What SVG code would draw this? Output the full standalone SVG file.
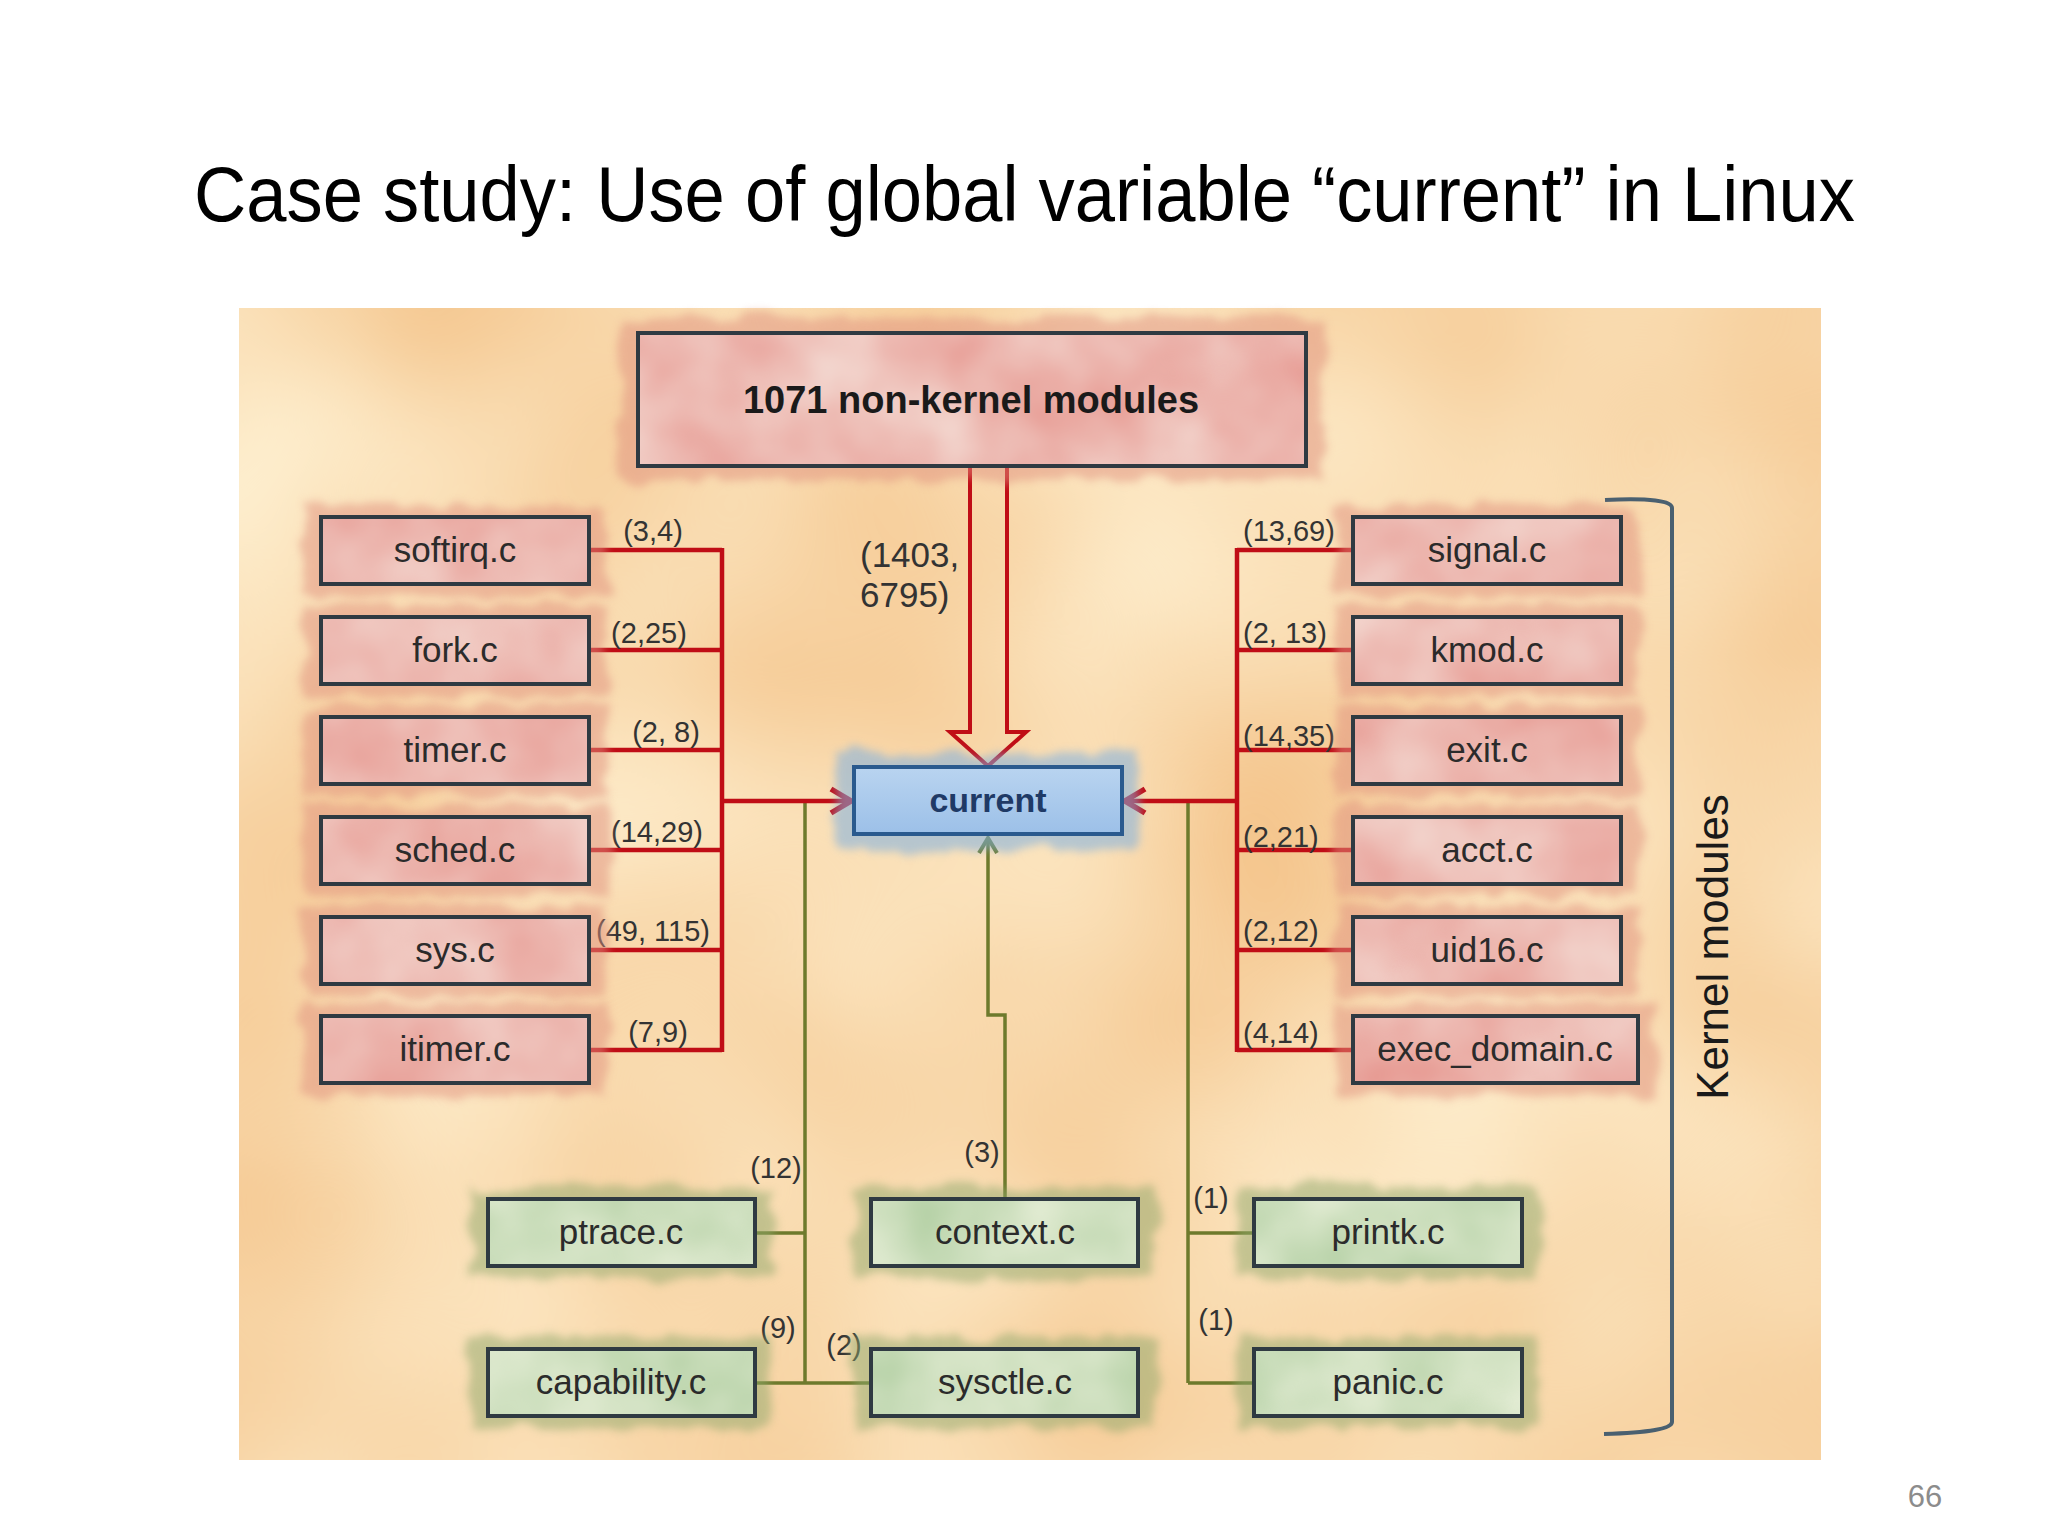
<svg xmlns="http://www.w3.org/2000/svg" width="2048" height="1536" viewBox="0 0 2048 1536">
<style>
  text{font-family:"Liberation Sans",Arial,sans-serif}
  .title{font-size:78px;fill:#000}
  .lbl{font-size:35px;fill:#2b2b2b;text-anchor:middle}
  .big{font-size:38px;font-weight:bold;fill:#1a1a1a;text-anchor:middle}
  .cur{font-size:34px;font-weight:bold;fill:#1f3a66;text-anchor:middle}
  .el{font-size:29px;fill:#333}
  .elm{font-size:29px;fill:#333;text-anchor:middle}
  .num{font-size:35px;fill:#333}
  .outline{fill:none;stroke:#2f3a42;stroke-width:4}
  .outline-b{fill:none;stroke:#2a5a8e;stroke-width:4}
  .fr{filter:url(#texR)}
  .fg{filter:url(#texG)}
  .sr{fill:#e0907e;opacity:0.5;filter:url(#splash)}
  .sg{fill:#8fa86c;opacity:0.5;filter:url(#splash)}
  .sb{fill:#7fb0e0;opacity:0.55;filter:url(#splash)}
  .red{fill:none;stroke:#c00d16;stroke-width:4.5}
  .green{fill:none;stroke:#6e7a2c;stroke-width:3.5}
</style>
<defs>
  <filter id="paper" x="0" y="0" width="100%" height="100%" color-interpolation-filters="sRGB">
    <feTurbulence type="fractalNoise" baseFrequency="0.003" numOctaves="2" seed="3" result="n"/>
    <feColorMatrix in="n" type="matrix" values="0.05 0 0 0 0.95  0.22 0 0 0 0.74  0.35 0 0 0 0.5  0 0 0 0 1" result="c"/>
    <feComposite in="c" in2="SourceGraphic" operator="in"/>
  </filter>
  <filter id="texR" x="0" y="0" width="100%" height="100%" color-interpolation-filters="sRGB">
    <feTurbulence type="fractalNoise" baseFrequency="0.009" numOctaves="3" seed="7" result="n"/>
    <feColorMatrix in="n" type="matrix" values="0.06 0 0 0 0.9  0.3 0 0 0 0.58  0.3 0 0 0 0.55  0 0 0 0 1" result="c"/>
    <feComposite in="c" in2="SourceGraphic" operator="in"/>
  </filter>
  <filter id="texG" x="0" y="0" width="100%" height="100%" color-interpolation-filters="sRGB">
    <feTurbulence type="fractalNoise" baseFrequency="0.009" numOctaves="3" seed="11" result="n"/>
    <feColorMatrix in="n" type="matrix" values="0.25 0 0 0 0.68  0.15 0 0 0 0.8  0.25 0 0 0 0.62  0 0 0 0 1" result="c"/>
    <feComposite in="c" in2="SourceGraphic" operator="in"/>
  </filter>
  <filter id="splash" x="-20%" y="-50%" width="140%" height="200%" color-interpolation-filters="sRGB">
    <feTurbulence type="fractalNoise" baseFrequency="0.03" numOctaves="3" seed="5" result="t"/>
    <feDisplacementMap in="SourceGraphic" in2="t" scale="22" xChannelSelector="R" yChannelSelector="G" result="d"/>
    <feGaussianBlur in="d" stdDeviation="4"/>
  </filter>
  <linearGradient id="gBlue" x1="0" y1="0" x2="0" y2="1">
    <stop offset="0" stop-color="#b9d4f0"/>
    <stop offset="1" stop-color="#9cc0e8"/>
  </linearGradient>
  <marker id="arrR" viewBox="0 0 26 30" refX="23" refY="15" markerWidth="26" markerHeight="30" markerUnits="userSpaceOnUse" orient="auto">
    <path d="M3,3 L23,15 L3,27" fill="none" stroke="#c00d16" stroke-width="5.5"/>
  </marker>
  <marker id="arrG" viewBox="0 0 20 24" refX="18" refY="12" markerWidth="20" markerHeight="24" markerUnits="userSpaceOnUse" orient="auto">
    <path d="M3,3 L18,12 L3,21" fill="none" stroke="#6e7a2c" stroke-width="4"/>
  </marker>
</defs>

<rect width="2048" height="1536" fill="#ffffff"/>

<text class="title" x="194" y="221" textLength="1661" lengthAdjust="spacingAndGlyphs">Case study: Use of global variable “current” in Linux</text>

<g id="background">
  <rect x="239" y="308" width="1582" height="1152" fill="#f9d6a4"/>
  <rect x="239" y="308" width="1582" height="1152" fill="#f9d6a4" filter="url(#paper)"/>
</g>

<g id="bracket">
  <path d="M1605,500 Q1672,497 1672,508 L1672,1422 Q1672,1432 1604,1434" fill="none" stroke="#4a6070" stroke-width="4"/>
  <text transform="translate(1728,947) rotate(-90)" text-anchor="middle" style="font-size:44px;fill:#1a1a1a">Kernel modules</text>
</g>

<g id="connectors">
  <g class="green">
    <path d="M805,801V1383M755,1233H805M755,1383H871"/>
    <path d="M1188,801V1383M1188,1233H1254M1188,1383H1254"/>
    <path d="M1005,1199V1015H988V838" marker-end="url(#arrG)"/>
  </g>
  <g class="red">
    <path d="M589,550H722M589,650H722M589,750H722M589,850H722M589,950H722M589,1050H722M722,548V1052"/>
    <path d="M720,801H851" marker-end="url(#arrR)"/>
    <path d="M1353,550H1237M1353,650H1237M1353,750H1237M1353,850H1237M1353,950H1237M1353,1050H1237M1237,548V1052"/>
    <path d="M1239,801H1125" marker-end="url(#arrR)"/>
    <path d="M970,466V732H950L988,766L1026,732H1007V466" stroke-width="4"/>
  </g>
  <g id="edge-labels">
    <text class="elm" x="653" y="541">(3,4)</text>
    <text class="elm" x="649" y="643">(2,25)</text>
    <text class="elm" x="666" y="742">(2, 8)</text>
    <text class="elm" x="657" y="842">(14,29)</text>
    <text class="elm" x="653" y="941">(49, 115)</text>
    <text class="elm" x="658" y="1042">(7,9)</text>
    <text class="el" x="1243" y="541">(13,69)</text>
    <text class="el" x="1243" y="643">(2, 13)</text>
    <text class="el" x="1243" y="746">(14,35)</text>
    <text class="el" x="1243" y="847">(2,21)</text>
    <text class="el" x="1243" y="941">(2,12)</text>
    <text class="el" x="1243" y="1043">(4,14)</text>
    <text class="num" x="860" y="567">(1403,</text>
    <text class="num" x="860" y="607">6795)</text>
    <text class="elm" x="776" y="1178">(12)</text>
    <text class="elm" x="982" y="1162">(3)</text>
    <text class="elm" x="778" y="1338">(9)</text>
    <text class="elm" x="844" y="1355">(2)</text>
    <text class="elm" x="1211" y="1208">(1)</text>
    <text class="elm" x="1216" y="1330">(1)</text>
  </g>
</g>

<g id="node-nonkernel">
  <rect class="sr" x="620" y="318" width="702" height="162"/>
  <rect class="fr" x="638" y="333" width="668" height="133"/>
  <rect class="outline" x="638" y="333" width="668" height="133"/>
  <text class="big" x="971" y="413">1071 non-kernel modules</text>
</g>

<g id="node-current">
  <rect class="sb" x="836" y="752" width="304" height="98"/>
  <rect x="854" y="767" width="268" height="67" fill="url(#gBlue)"/>
  <rect class="outline-b" x="854" y="767" width="268" height="67"/>
  <text class="cur" x="988" y="812">current</text>
</g>

<g id="node-softirq">
  <rect class="sr" x="303" y="505" width="304" height="91"/>
  <rect class="fr" x="321" y="517" width="268" height="67"/>
  <rect class="outline" x="321" y="517" width="268" height="67"/>
  <text class="lbl" x="455" y="562">softirq.c</text>
</g>
<g id="node-fork">
  <rect class="sr" x="303" y="605" width="304" height="91"/>
  <rect class="fr" x="321" y="617" width="268" height="67"/>
  <rect class="outline" x="321" y="617" width="268" height="67"/>
  <text class="lbl" x="455" y="662">fork.c</text>
</g>
<g id="node-timer">
  <rect class="sr" x="303" y="705" width="304" height="91"/>
  <rect class="fr" x="321" y="717" width="268" height="67"/>
  <rect class="outline" x="321" y="717" width="268" height="67"/>
  <text class="lbl" x="455" y="762">timer.c</text>
</g>
<g id="node-sched">
  <rect class="sr" x="303" y="805" width="304" height="91"/>
  <rect class="fr" x="321" y="817" width="268" height="67"/>
  <rect class="outline" x="321" y="817" width="268" height="67"/>
  <text class="lbl" x="455" y="862">sched.c</text>
</g>
<g id="node-sys">
  <rect class="sr" x="303" y="905" width="304" height="91"/>
  <rect class="fr" x="321" y="917" width="268" height="67"/>
  <rect class="outline" x="321" y="917" width="268" height="67"/>
  <text class="lbl" x="455" y="962">sys.c</text>
</g>
<g id="node-itimer">
  <rect class="sr" x="303" y="1004" width="304" height="91"/>
  <rect class="fr" x="321" y="1016" width="268" height="67"/>
  <rect class="outline" x="321" y="1016" width="268" height="67"/>
  <text class="lbl" x="455" y="1061">itimer.c</text>
</g>

<g id="node-signal">
  <rect class="sr" x="1335" y="505" width="304" height="91"/>
  <rect class="fr" x="1353" y="517" width="268" height="67"/>
  <rect class="outline" x="1353" y="517" width="268" height="67"/>
  <text class="lbl" x="1487" y="562">signal.c</text>
</g>
<g id="node-kmod">
  <rect class="sr" x="1335" y="605" width="304" height="91"/>
  <rect class="fr" x="1353" y="617" width="268" height="67"/>
  <rect class="outline" x="1353" y="617" width="268" height="67"/>
  <text class="lbl" x="1487" y="662">kmod.c</text>
</g>
<g id="node-exit">
  <rect class="sr" x="1335" y="705" width="304" height="91"/>
  <rect class="fr" x="1353" y="717" width="268" height="67"/>
  <rect class="outline" x="1353" y="717" width="268" height="67"/>
  <text class="lbl" x="1487" y="762">exit.c</text>
</g>
<g id="node-acct">
  <rect class="sr" x="1335" y="805" width="304" height="91"/>
  <rect class="fr" x="1353" y="817" width="268" height="67"/>
  <rect class="outline" x="1353" y="817" width="268" height="67"/>
  <text class="lbl" x="1487" y="862">acct.c</text>
</g>
<g id="node-uid16">
  <rect class="sr" x="1335" y="905" width="304" height="91"/>
  <rect class="fr" x="1353" y="917" width="268" height="67"/>
  <rect class="outline" x="1353" y="917" width="268" height="67"/>
  <text class="lbl" x="1487" y="962">uid16.c</text>
</g>
<g id="node-exec_domain">
  <rect class="sr" x="1335" y="1004" width="321" height="91"/>
  <rect class="fr" x="1353" y="1016" width="285" height="67"/>
  <rect class="outline" x="1353" y="1016" width="285" height="67"/>
  <text class="lbl" x="1495" y="1061">exec_domain.c</text>
</g>

<g id="node-ptrace">
  <rect class="sg" x="470" y="1187" width="302" height="91"/>
  <rect class="fg" x="488" y="1199" width="267" height="67"/>
  <rect class="outline" x="488" y="1199" width="267" height="67"/>
  <text class="lbl" x="621" y="1244">ptrace.c</text>
</g>
<g id="node-context">
  <rect class="sg" x="854" y="1187" width="302" height="91"/>
  <rect class="fg" x="871" y="1199" width="267" height="67"/>
  <rect class="outline" x="871" y="1199" width="267" height="67"/>
  <text class="lbl" x="1005" y="1244">context.c</text>
</g>
<g id="node-printk">
  <rect class="sg" x="1237" y="1187" width="302" height="91"/>
  <rect class="fg" x="1254" y="1199" width="268" height="67"/>
  <rect class="outline" x="1254" y="1199" width="268" height="67"/>
  <text class="lbl" x="1388" y="1244">printk.c</text>
</g>
<g id="node-capability">
  <rect class="sg" x="470" y="1337" width="302" height="91"/>
  <rect class="fg" x="488" y="1349" width="267" height="67"/>
  <rect class="outline" x="488" y="1349" width="267" height="67"/>
  <text class="lbl" x="621" y="1394">capability.c</text>
</g>
<g id="node-sysctle">
  <rect class="sg" x="854" y="1337" width="302" height="91"/>
  <rect class="fg" x="871" y="1349" width="267" height="67"/>
  <rect class="outline" x="871" y="1349" width="267" height="67"/>
  <text class="lbl" x="1005" y="1394">sysctle.c</text>
</g>
<g id="node-panic">
  <rect class="sg" x="1237" y="1337" width="302" height="91"/>
  <rect class="fg" x="1254" y="1349" width="268" height="67"/>
  <rect class="outline" x="1254" y="1349" width="268" height="67"/>
  <text class="lbl" x="1388" y="1394">panic.c</text>
</g>

<text x="1925" y="1507" text-anchor="middle" style="font-size:31px;fill:#8c8c8c">66</text>
</svg>
